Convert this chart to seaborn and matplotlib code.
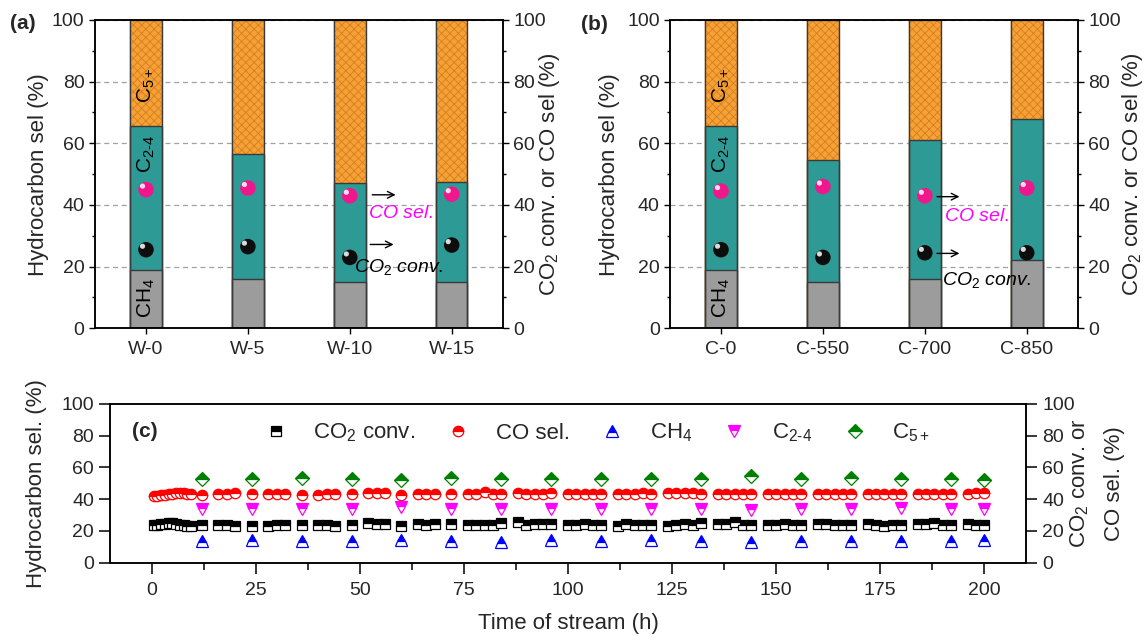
import numpy as np
import pandas as pd
import matplotlib
matplotlib.use('Agg')
import matplotlib.pyplot as plt
from matplotlib.ticker import MultipleLocator
from matplotlib.transforms import offset_copy
import seaborn as sns

sns.set_theme(style='ticks')
plt.rcParams['font.family'] = ['Liberation Sans', 'DejaVu Sans']
plt.rcParams['mathtext.fontset'] = 'custom'
plt.rcParams['mathtext.rm'] = 'Liberation Sans'
plt.rcParams['mathtext.it'] = 'Liberation Sans:italic'
plt.rcParams['mathtext.bf'] = 'Liberation Sans:bold'
plt.rcParams['hatch.linewidth'] = 0.6
plt.rcParams['axes.linewidth'] = 1.1
plt.rcParams['axes.edgecolor'] = 'black'

# ---- panel (a): W series ----
cats_a = ['W-0', 'W-5', 'W-10', 'W-15']
ch4_a = [19, 16, 15, 15]
c24_a = [46.5, 40.5, 32, 32.5]
c5_a = [34.5, 43.5, 53, 52.5]
co_sel_a = [45, 45.5, 43, 43.5]
co2_conv_a = [25.5, 26.5, 23, 27]

# ---- panel (b): C series ----
cats_b = ['C-0', 'C-550', 'C-700', 'C-850']
ch4_b = [19, 15, 16, 22]
c24_b = [46.5, 39.5, 45, 46]
c5_b = [34.5, 45.5, 39, 32]
co_sel_b = [44.5, 46, 43, 45.5]
co2_conv_b = [25.5, 23, 24.5, 24.5]

# ---- panel (c): time on stream ----
t_conv = [0.5, 1.4, 2.3, 3.2, 4.1, 5.0, 5.9, 6.8, 7.7, 8.6, 9.5,
          12, 16, 18, 20, 24, 28, 30, 32, 36, 40, 42, 44, 48,
          52, 54, 56, 60, 64, 66, 68, 72,
          76, 78, 80, 82, 84, 88, 90, 92, 94, 96, 100, 102, 104, 106, 108,
          112, 114, 116, 118, 120, 124, 126, 128, 130, 132,
          136, 138, 140, 142, 144, 148, 150, 152, 154, 156,
          160, 162, 164, 166, 168, 172, 174, 176, 178, 180,
          184, 186, 188, 190, 192, 196, 198, 200]
co_sel_t = [42.0, 42.3, 42.6, 42.9, 43.2, 43.5, 43.7, 43.8, 43.6, 43.2, 43.0,
            42.8, 43.2, 43.4, 43.6, 43.0, 43.2, 43.0, 43.2, 42.8, 42.8, 43.0, 43.0, 43.0,
            43.8, 43.8, 43.6, 42.8, 43.0, 43.2, 43.0, 43.0,
            43.0, 43.2, 44.5, 43.5, 43.2, 44.0, 43.5, 43.5, 43.5, 44.0,
            43.2, 43.2, 43.5, 43.5, 43.0,
            43.2, 43.5, 43.5, 43.8, 43.2, 44.0, 43.6, 43.8, 43.8, 43.2,
            43.2, 43.4, 43.4, 43.4, 43.4, 43.2, 43.2, 43.4, 43.4, 43.4,
            43.2, 43.4, 43.4, 43.4, 43.2, 43.2, 43.4, 43.4, 43.4, 43.2,
            43.2, 43.4, 43.4, 43.2, 43.2, 43.2, 43.6, 43.6]
co2_conv_t = [23.5, 24.0, 24.5, 24.5, 25.0, 24.8, 24.5, 24.0, 23.5, 23.0, 23.0,
              23.8, 24.0, 24.0, 23.2, 22.8, 23.0, 23.8, 23.8, 24.0, 24.0, 24.0, 23.0, 24.0,
              25.0, 24.6, 24.6, 23.0, 24.6, 23.8, 24.6, 24.2,
              23.6, 23.6, 23.6, 23.6, 24.8, 25.6, 24.0, 24.6, 24.6, 24.6,
              23.6, 23.6, 24.6, 24.0, 23.6,
              23.2, 24.2, 23.6, 23.6, 24.0, 23.2, 23.6, 24.6, 23.6, 25.2,
              24.2, 24.2, 25.4, 24.0, 23.6, 23.6, 23.6, 24.6, 23.6, 24.0,
              24.6, 24.6, 23.6, 24.0, 24.0, 24.6, 24.0, 23.2, 24.0, 24.0,
              24.6, 24.6, 24.8, 24.0, 23.6, 24.6, 23.6, 24.0]
t_hc = [12, 24, 36, 48, 60, 72, 84, 96, 108, 120, 132, 144, 156, 168, 180, 192, 200]
ch4_t = [13.5, 14, 13.5, 13.5, 14, 13.5, 13, 14, 13.5, 14, 13.5, 13, 13.5, 13.5, 13.5, 13.5, 14.5]
c24_t = [34, 34, 34, 34, 35, 34, 34, 34, 34, 34, 34, 33.5, 34, 34, 34.5, 34, 34]
c5_t = [53, 52.5, 53.5, 53, 52, 53.5, 53, 52.5, 52.5, 52.5, 52.5, 54.5, 53, 53.5, 52.5, 52.5, 52]

ORANGE = '#F7A135'
HATCH = '#D27F22'
TEAL = '#2D9A96'
GRAY = '#9C9C9C'
EDGE = '#3A3A3A'
PINK = '#F0168C'

TICK = 14
LABEL = 16
C24 = r'C$_{2\text{-}4}$'

fig = plt.figure(figsize=(11.45, 6.41), dpi=100)
ax_a = fig.add_axes([0.0830, 0.4878, 0.356, 0.481])
ax_b = fig.add_axes([0.5852, 0.4878, 0.356, 0.481])
ax_c = fig.add_axes([0.0961, 0.1222, 0.800, 0.2476])


def bar_panel(ax, cats, ch4, c24, c5, co_sel, co2_conv, left_lab_x, right_lab_x):
    df = pd.DataFrame({'cat': cats,
                       'ch4': ch4,
                       'c24_top': np.add(ch4, c24),
                       'total': np.add(np.add(ch4, c24), c5),
                       'co': co_sel,
                       'co2': co2_conv})
    common = dict(data=df, x='cat', width=0.31, saturation=1, errorbar=None, ax=ax)
    sns.barplot(y='total', color=ORANGE, edgecolor=HATCH, hatch='xxxx', linewidth=0.3, **common)
    sns.barplot(y='c24_top', color=TEAL, edgecolor=EDGE, linewidth=1, **common)
    sns.barplot(y='ch4', color=GRAY, edgecolor=EDGE, linewidth=1, **common)
    sns.barplot(y='total', color=ORANGE, facecolor='none', edgecolor=EDGE, linewidth=1, **common)

    # shiny balls
    hl = offset_copy(ax.transData, fig=ax.figure, x=-2.5, y=2.5, units='points')
    sns.scatterplot(data=df, x='cat', y='co', s=125, color=PINK, edgecolor='none', ax=ax, zorder=5)
    sns.scatterplot(data=df, x='cat', y='co2', s=125, color='#0D0D0D', edgecolor='none', ax=ax, zorder=5)
    sns.scatterplot(data=df, x='cat', y='co', s=14, color='white', alpha=0.85, edgecolor='none',
                    ax=ax, zorder=6, transform=hl)
    sns.scatterplot(data=df, x='cat', y='co2', s=14, color='white', alpha=0.85, edgecolor='none',
                    ax=ax, zorder=6, transform=hl)

    ax.set_xlim(-0.5, 3.5)
    ax.set_ylim(0, 100)
    ax.set_yticks(range(0, 101, 20))
    ax.yaxis.set_minor_locator(MultipleLocator(10))
    ax.set_axisbelow(True)
    ax.grid(axis='y', which='major', linestyle=(0, (4, 3)), color='#A0A0A0', lw=0.9)
    ax.set_xlabel('')
    ax.set_ylabel('Hydrocarbon sel (%)', fontsize=LABEL)
    ax.yaxis.set_label_coords(left_lab_x, 0.5)
    ax.tick_params(axis='both', which='major', labelsize=TICK, direction='out', length=4, width=1, color='black')
    ax.tick_params(axis='y', which='minor', direction='out', length=2.5, width=1, color='black')
    ax.tick_params(axis='x', pad=5)

    tw = ax.twinx()
    tw.set_ylim(0, 100)
    tw.set_yticks(range(0, 101, 20))
    tw.yaxis.set_minor_locator(MultipleLocator(10))
    tw.tick_params(axis='y', which='major', labelsize=TICK, direction='out', length=4, width=1, color='black')
    tw.tick_params(axis='y', which='minor', direction='out', length=2.5, width=1, color='black')
    tw.set_ylabel('CO$_2$ conv. or CO sel (%)', fontsize=LABEL)
    tw.yaxis.set_label_coords(right_lab_x, 0.5)

    # component names inside the first bar
    for txt, yv in [('CH$_4$', 10), (C24, 56.5), ('C$_{5+}$', 79)]:
        ax.text(0, yv, txt, rotation=90, ha='center', va='center', fontsize=15, color='black', zorder=7)
    return tw


bar_panel(ax_a, cats_a, ch4_a, c24_a, c5_a, co_sel_a, co2_conv_a, -0.113, 1.085)
bar_panel(ax_b, cats_b, ch4_b, c24_b, c5_b, co_sel_b, co2_conv_b, -0.123, 1.104)

arrow = dict(arrowstyle='->', lw=1, color='black', shrinkA=0, shrinkB=0)
# (a) annotations
ax_a.annotate('', xy=(2.45, 43.3), xytext=(2.22, 43.3), arrowprops=arrow, zorder=7)
ax_a.text(2.18, 37.1, r'$\mathit{CO\ sel.}$', color='#FF00FF', fontsize=14, va='center', ha='left', zorder=7)
ax_a.annotate('', xy=(2.43, 27.2), xytext=(2.20, 27.2), arrowprops=arrow, zorder=7)
ax_a.text(2.04, 19.9, r'$\mathit{CO_2\ conv.}$', color='black', fontsize=14, va='center', ha='left', zorder=7)
# (b) annotations
ax_b.annotate('', xy=(2.34, 42.7), xytext=(2.12, 42.7), arrowprops=arrow, zorder=7)
ax_b.text(2.19, 36.2, r'$\mathit{CO\ sel.}$', color='#FF00FF', fontsize=14, va='center', ha='left', zorder=7)
ax_b.annotate('', xy=(2.34, 24.3), xytext=(2.12, 24.3), arrowprops=arrow, zorder=7)
ax_b.text(2.17, 15.7, r'$\mathit{CO_2\ conv.}$', color='black', fontsize=14, va='center', ha='left', zorder=7)

fig.text(0.009, 0.963, '(a)', fontsize=15, fontweight='bold', va='center', ha='left')
fig.text(0.507, 0.961, '(b)', fontsize=15, fontweight='bold', va='center', ha='left')

# ---- panel (c) ----
series = [
    (t_conv, co2_conv_t, 's', 'black', 'CO$_2$ conv.', 6.5),
    (t_conv, co_sel_t, 'o', '#FF0000', 'CO sel.', 7.5),
    (t_hc, ch4_t, '^', '#0000FF', 'CH$_4$', 9),
    (t_hc, c24_t, 'v', '#FF00FF', C24, 9),
    (t_hc, c5_t, 'D', '#008000', 'C$_{5+}$', 7.5),
]
for xs, ys, mk, col, lab, ms in series:
    sns.lineplot(x=xs, y=ys, ax=ax_c, marker=mk, linestyle='', color=col,
                 markerfacecolor=col, markerfacecoloralt='white', markeredgecolor=col,
                 markeredgewidth=0.9, fillstyle='top', markersize=ms, label=lab,
                 errorbar=None)

ax_c.set_xlim(-10, 210)
ax_c.set_ylim(0, 100)
ax_c.set_xticks(range(0, 201, 25))
ax_c.xaxis.set_minor_locator(MultipleLocator(12.5))
ax_c.set_yticks(range(0, 101, 20))
ax_c.tick_params(axis='both', which='major', labelsize=TICK, direction='out', length=8, width=1.1, color='black')
ax_c.tick_params(axis='x', which='major', pad=6)
ax_c.tick_params(axis='x', which='minor', direction='out', length=5, width=1.1, color='black')
ax_c.set_xlabel('Time of stream (h)', fontsize=LABEL, labelpad=10)
ax_c.set_ylabel('Hydrocarbon sel. (%)', fontsize=LABEL)
ax_c.yaxis.set_label_coords(-0.069, 0.5)
ax_c.text(0.024, 0.824, '(c)', transform=ax_c.transAxes, fontsize=15, fontweight='bold', va='center', ha='left')
ax_c.legend(loc='center', bbox_to_anchor=(0.532, 0.817), ncol=5, frameon=False, fontsize=16,
            handlelength=1.0, handletextpad=1.2, columnspacing=1.4, borderaxespad=0)

tw_c = ax_c.twinx()
tw_c.set_ylim(0, 100)
tw_c.set_yticks(range(0, 101, 20))
tw_c.tick_params(axis='y', which='major', labelsize=TICK, direction='out', length=8, width=1.1, color='black')
tw_c.set_ylabel('CO$_2$ conv. or\nCO sel. (%)', fontsize=LABEL, linespacing=1.85)
tw_c.yaxis.set_label_coords(1.046, 0.5)

fig.savefig('out.png', dpi=100)
